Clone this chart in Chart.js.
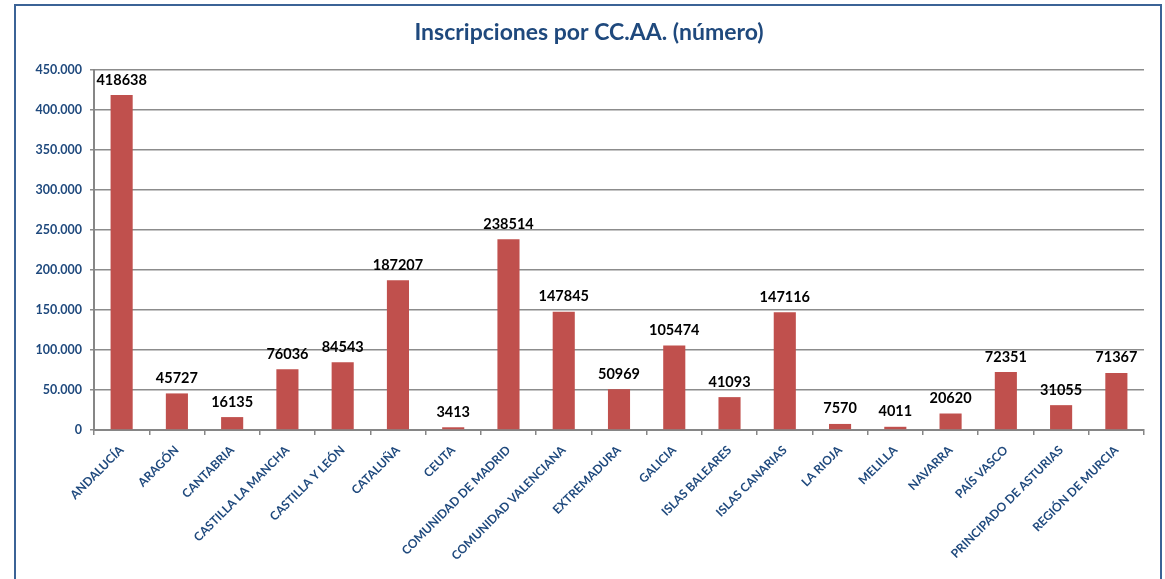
<!DOCTYPE html>
<html>
<head>
<meta charset="utf-8">
<script src="https://cdn.jsdelivr.net/npm/chart.js@4.4.1/dist/chart.umd.min.js"></script>
<style>
  html, body { margin: 0; padding: 0; background: #fff; }
  #wrap { position: relative; width: 1165px; height: 579px; }
</style>
</head>
<body>
<div id="wrap"><canvas id="chart" width="1165" height="579"></canvas></div>
<script>
const regions = ['ANDALUCÍA', 'ARAGÓN', 'CANTABRIA', 'CASTILLA LA MANCHA', 'CASTILLA Y LEÓN', 'CATALUÑA', 'CEUTA',
  'COMUNIDAD DE MADRID', 'COMUNIDAD VALENCIANA', 'EXTREMADURA', 'GALICIA', 'ISLAS BALEARES', 'ISLAS CANARIAS',
  'LA RIOJA', 'MELILLA', 'NAVARRA', 'PAÍS VASCO', 'PRINCIPADO DE ASTURIAS', 'REGIÓN DE MURCIA'];
const inscripciones = [418638, 45727, 16135, 76036, 84543, 187207, 3413, 238514, 147845, 50969, 105474, 41093,
  147116, 7570, 4011, 20620, 72351, 31055, 71367];
const yMax = 450000;
const yStep = 50000;

const blue = '#1F497D';
const fontFamily = 'Lato, "Open Sans", sans-serif';

// thousands with a dot, like the spreadsheet
function fmt(v) {
  return String(v).replace(/\B(?=(\d{3})+(?!\d))/g, '.');
}

// outer frame + title
const framePlugin = {
  id: 'frame',
  beforeDraw(chart) {
    const ctx = chart.ctx;
    ctx.save();
    ctx.strokeStyle = '#3B6396';
    ctx.lineWidth = 2;
    ctx.strokeRect(15, 5, 1146, 620);
    ctx.fillStyle = blue;
    ctx.font = 'bold 23px ' + fontFamily;
    ctx.textAlign = 'center';
    ctx.textBaseline = 'middle';
    ctx.fillText('Inscripciones por CC.AA. (número)', 589, 33);
    ctx.restore();
  }
};

// value on top of every bar
const valuePlugin = {
  id: 'values',
  afterDatasetsDraw(chart) {
    const ctx = chart.ctx;
    const meta = chart.getDatasetMeta(0);
    ctx.save();
    ctx.fillStyle = '#000';
    ctx.font = 'bold 14.5px ' + fontFamily;
    ctx.textAlign = 'center';
    ctx.textBaseline = 'bottom';
    meta.data.forEach((bar, i) => {
      ctx.fillText(String(inscripciones[i]), bar.x, bar.y - 8);
    });
    ctx.restore();
  }
};

new Chart(document.getElementById('chart'), {
  type: 'bar',
  data: {
    labels: regions,
    datasets: [{
      data: inscripciones,
      backgroundColor: '#C0504D',
      borderWidth: 0,
      categoryPercentage: 1,
      barPercentage: 0.4
    }]
  },
  options: {
    responsive: false,
    animation: false,
    events: [],
    layout: { padding: { left: 15, right: 21, top: 70, bottom: 0 } },
    plugins: {
      legend: { display: false },
      title: { display: false },
      tooltip: { enabled: false }
    },
    scales: {
      x: {
        afterFit: (s) => { s.height = 149; },
        grid: { drawOnChartArea: false, color: '#868686', tickLength: 5, lineWidth: 1.5 },
        border: { color: '#868686', width: 2 },
        ticks: {
          color: blue,
          font: { family: fontFamily, size: 12, weight: 'bold' },
          minRotation: 45,
          maxRotation: 45,
          autoSkip: false,
          padding: 8
        }
      },
      y: {
        min: 0,
        max: yMax,
        afterFit: (s) => { s.width = 79; },
        grid: { color: '#8c8c8c', lineWidth: 1.5, tickLength: 4 },
        border: { color: '#868686', width: 2 },
        ticks: {
          stepSize: yStep,
          color: blue,
          font: { family: fontFamily, size: 12.5, weight: 'bold' },
          padding: 8,
          callback: (v) => fmt(v)
        }
      }
    }
  },
  plugins: [framePlugin, valuePlugin]
});
</script>
</body>
</html>
